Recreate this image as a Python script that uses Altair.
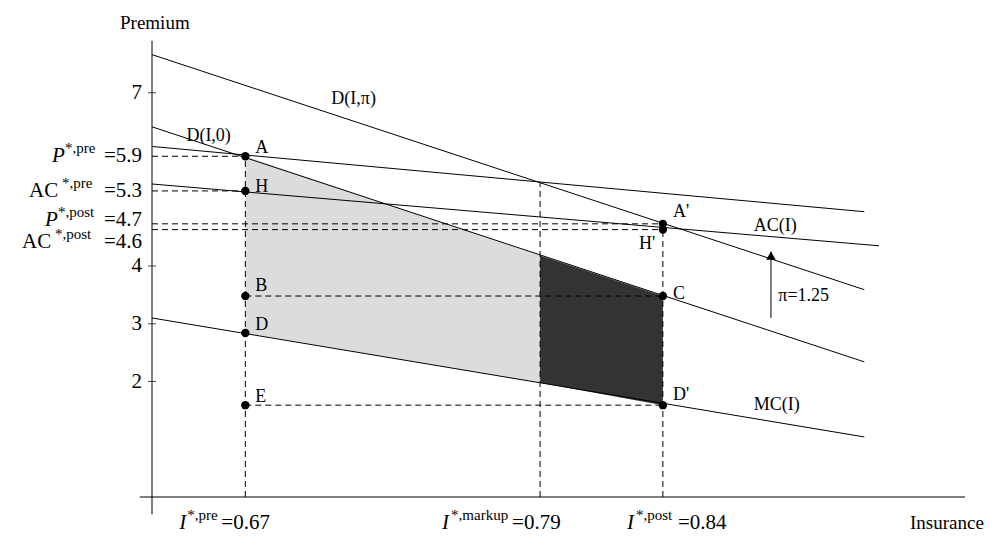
import altair as alt
import pandas as pd

# key values of the diagram
I_pre, I_mk, I_post = 0.67, 0.79, 0.84
P_pre, AC_pre, P_post, AC_post = 5.9, 5.3, 4.73, 4.63
B_y, E_y = 3.48, 1.59
mk_top, mk_bot = 4.18, 1.98
D_y = 2.84

# curve endpoints (I, premium)
curves = {
    "Dpi": [(0.632, 7.66), (0.922, 3.59)],
    "D0": [(0.632, 6.41), (0.922, 2.34)],
    "P": [(0.632, 6.07), (0.922, 4.94)],
    "AC": [(0.632, 5.42), (0.928, 4.35)],
    "MC": [(0.632, 3.10), (0.922, 1.04)],
}

points = pd.DataFrame({
    "x": [I_pre] * 5 + [I_post] * 4,
    "y": [P_pre, AC_pre, B_y, D_y, E_y, P_post, AC_post, B_y, E_y],
})

dashes = pd.DataFrame([
    (0.632, P_pre, I_pre, P_pre),
    (0.632, AC_pre, I_pre, AC_pre),
    (0.632, P_post, I_post, P_post),
    (0.632, AC_post, I_post, AC_post),
    (I_pre, B_y, I_post, B_y),
    (I_pre, E_y, I_post, E_y),
    (I_pre, 0, I_pre, P_pre),
    (I_mk, 0, I_mk, 5.44),
    (I_post, 0, I_post, 4.8),
], columns=["x", "y", "x2", "y2"])

FONT = "Liberation Serif"
xs = alt.Scale(domain=[0.632, 0.963], nice=False)
ys = alt.Scale(domain=[0, 8.0], nice=False)
X = lambda f="x": alt.X(f"{f}:Q", scale=xs, axis=None)
Y = lambda f="y": alt.Y(f"{f}:Q", scale=ys, axis=None)

layers = []

gray = pd.DataFrame({"x": [I_pre, I_mk], "y": [P_pre, mk_top], "y2": [D_y, mk_bot]})
dark = pd.DataFrame({"x": [I_mk, I_post], "y": [mk_top, B_y], "y2": [mk_bot, E_y]})
layers.append(alt.Chart(gray).mark_area(color="#dcdcdc").encode(x=X(), y=Y(), y2="y2"))
layers.append(alt.Chart(dark).mark_area(color="#333333").encode(x=X(), y=Y(), y2="y2"))

rows = []
for k, pts in curves.items():
    for x, y in pts:
        rows.append({"c": k, "x": x, "y": y})
layers.append(alt.Chart(pd.DataFrame(rows)).mark_line(color="black", strokeWidth=1).encode(
    x=X(), y=Y(), detail="c:N"))

layers.append(alt.Chart(dashes).mark_rule(color="black", strokeDash=[6, 4], strokeWidth=1).encode(
    x=X(), y=Y(), x2="x2", y2="y2"))

axes = pd.DataFrame([(0.632, -0.3, 0.632, 7.9), (0.627, 0, 0.963, 0)], columns=["x", "y", "x2", "y2"])
layers.append(alt.Chart(axes).mark_rule(color="black", strokeWidth=1).encode(x=X(), y=Y(), x2="x2", y2="y2"))

# y ticks
yt = pd.DataFrame({"x": [0.632] * 4, "y": [2, 3, 4, 7], "t": ["2", "3", "4", "7"]})
layers.append(alt.Chart(yt).mark_tick(color="black", orient="horizontal", size=8, thickness=1).encode(x=X(), y=Y()))
layers.append(alt.Chart(yt).mark_text(font=FONT, fontSize=21, align="right", dx=-10).encode(x=X(), y=Y(), text="t:N"))

# arrow pi
arrow = pd.DataFrame({"x": [0.884], "y": [3.10], "y2": [4.25]})
layers.append(alt.Chart(arrow).mark_rule(color="black").encode(x=X(), y=Y(), y2="y2"))
layers.append(alt.Chart(pd.DataFrame({"x": [0.884], "y": [4.18]})).mark_point(
    shape="triangle-up", filled=True, color="black", size=90, opacity=1).encode(x=X(), y=Y()))

layers.append(alt.Chart(points).mark_circle(color="black", size=70, opacity=1).encode(x=X(), y=Y()))


def txt(x, y, s, dx=0, dy=0, size=18, style="normal", align="left"):
    return alt.Chart(pd.DataFrame({"x": [x], "y": [y], "t": [s]})).mark_text(
        font=FONT, fontSize=size, fontStyle=style, align=align, dx=dx, dy=dy).encode(
        x=X(), y=Y(), text="t:N")


labels = [
    (I_pre, P_pre, "A", 10, -8), (I_pre, AC_pre, "H", 10, -4), (I_pre, B_y, "B", 10, -10),
    (I_pre, D_y, "D", 10, -8), (I_pre, E_y, "E", 10, -8),
    (I_post, P_post, "A'", 10, -12), (I_post, B_y, "C", 10, -2), (I_post, E_y, "D'", 10, -10),
    (I_post, AC_post, "H'", -24, 14),
    (0.646, 6.25, "D(I,0)", 0, 0), (0.705, 6.9, "D(I,π)", 0, 0),
    (0.877, 4.7, "AC(I)", 0, 0), (0.877, 1.59, "MC(I)", 0, 0), (0.887, 3.48, "π=1.25", 0, 0),
]
for x, y, s, dx, dy in labels:
    layers.append(txt(x, y, s, dx, dy))

# axis titles
layers.append(txt(0.632, 8.0, "Premium", -32, -12, 19))
layers.append(txt(0.963, 0, "Insurance", -55, 26, 19))

# y value labels: (y, main, sup, value, dx main, dx sup, dy)
ylabs = [
    (P_pre, "P", "*,pre", "=5.9", -100, -87, 0, "italic"),
    (AC_pre, "AC", "*,pre", "=5.3", -123, -90, 0, "normal"),
    (P_post, "P", "*,post", "=4.7", -107, -94, -4, "italic"),
    (AC_post, "AC", "*,post", "=4.6", -130, -97, 12, "normal"),
]
for y, m, sup, v, dxm, dxs, dy, st in ylabs:
    layers.append(txt(0.632, y, m, dxm, dy, 21, st))
    layers.append(txt(0.632, y, sup, dxs, dy - 8, 15))
    layers.append(txt(0.632, y, v, -10, dy, 21, "normal", "right"))

# x value labels
xlabs = [
    (I_pre, "*,pre", "=0.67", -66, -58, -24),
    (I_mk, "*,markup", "=0.79", -98, -89, -28),
    (I_post, "*,post", "=0.84", -36, -27, 15),
]
for x, sup, v, dxm, dxs, dxv in xlabs:
    layers.append(txt(x, 0, "I", dxm, 26, 21, "italic"))
    layers.append(txt(x, 0, sup, dxs, 18, 15))
    layers.append(txt(x, 0, v, dxv, 26, 21))

chart = alt.layer(*layers).properties(
    width=813, height=462,
    padding={"left": 144, "top": 27, "right": 30, "bottom": 45},
    autosize=alt.AutoSizeParams(type="none"),
).configure_view(stroke=None)

chart.save("out.html", embed_options={"renderer": "svg", "actions": False})
